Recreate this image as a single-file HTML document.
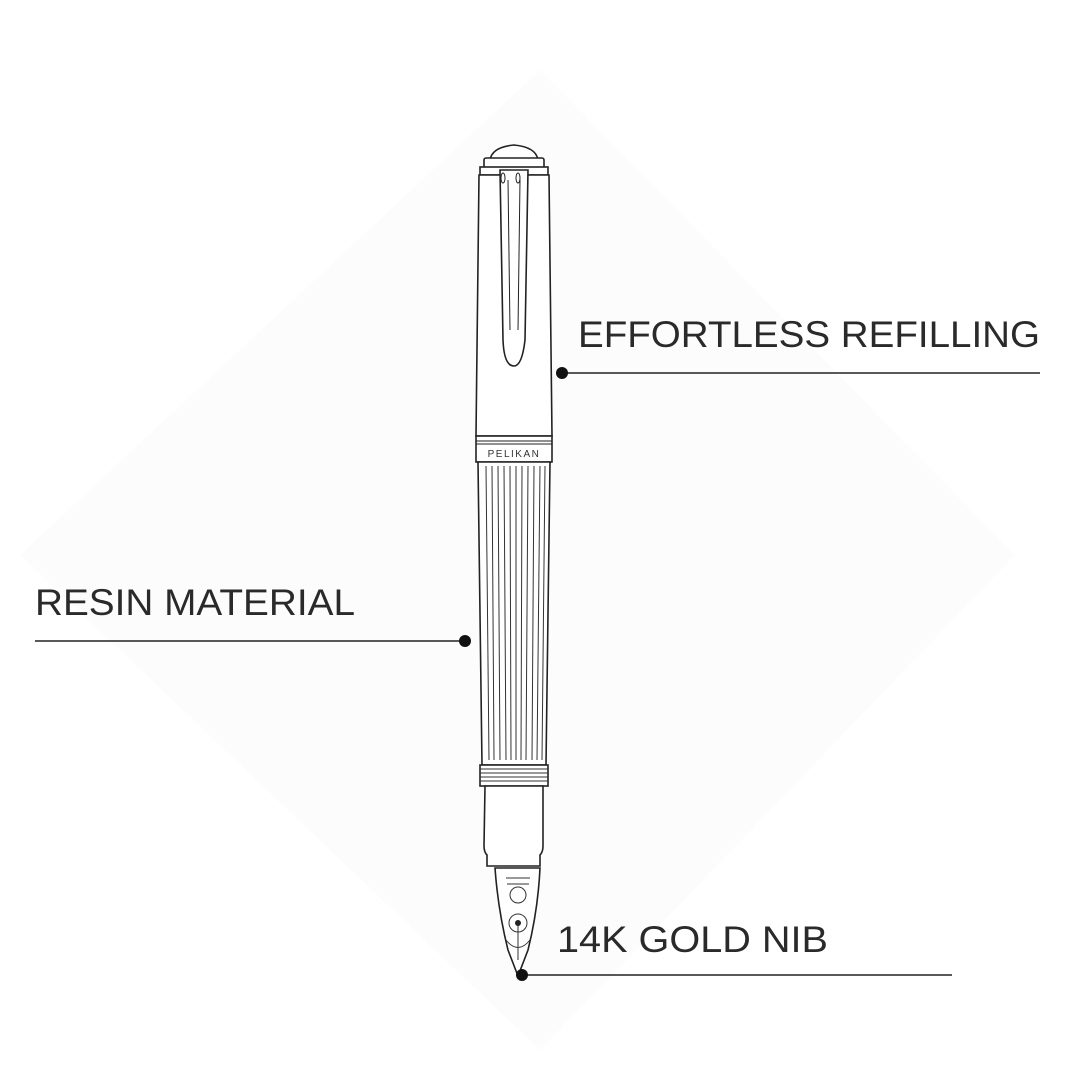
<!DOCTYPE html>
<html><head><style>body{margin:0;background:#fff}svg{display:block}</style></head><body>
<svg width="1080" height="1080" viewBox="0 0 1080 1080" xmlns="http://www.w3.org/2000/svg">
<rect width="1080" height="1080" fill="#fff"/>
<polygon points="540,70 1015,555 540,1050 20,555" fill="#fcfcfc"/>
<g fill="#fff" stroke="#222" stroke-width="1.6">
<path d="M490,160 Q492,147 514,145 Q536,147 538,160 Z"/>
<rect x="484" y="158" width="60" height="10" rx="2"/>
<rect x="480" y="167" width="68" height="8"/>
<path d="M479,175 L549,175 L552,436 L476,436 Z"/>
<path d="M500,170 L528,170 L525,340 Q522,366 514,366 Q504,366 503,340 Z"/>
<path d="M508,180 L510,330 M520,180 L518,330" fill="none" stroke-width="1"/>
<ellipse cx="503" cy="178" rx="2" ry="5" fill="none" stroke-width="1"/>
<ellipse cx="518" cy="178" rx="2" ry="5" fill="none" stroke-width="1"/>
<rect x="476" y="436" width="76" height="26"/>
<line x1="476" y1="441" x2="552" y2="441" stroke-width="1"/>
<line x1="476" y1="444" x2="552" y2="444" stroke-width="1"/>
<path d="M478,462 L550,462 L546,765 L482,765 Z"/>
<rect x="480" y="765" width="68" height="21"/>
<path d="M485,786 L543,786 L543,846 Q543,852 540,855 L540,866 L487,866 L487,855 Q484,852 484,846 Z"/>
<path d="M495,868 L540,868 Q538,910 528,950 L518,976 L508,950 Q498,910 495,868 Z"/>
</g>
<g stroke="#333" stroke-width="1" fill="none">
<path d="M486,466 L489,760 M492,466 L494,760 M498,466 L500,760 M504,466 L506,760 M510,466 L511,760 M516,466 L516,760 M522,466 L521,760 M528,466 L526,760 M534,466 L532,760 M540,466 L537,760 M545,466 L542,760"/>
<path d="M480,769 L548,769 M480,773 L548,773 M480,777 L548,777 M480,781 L548,781"/>
<circle cx="518" cy="895" r="8"/>
<circle cx="518" cy="923" r="9"/>
<path d="M518,923 L518,960 M506,940 Q518,955 530,940"/>
<path d="M506,878 L530,878 M507,884 L529,884"/>
</g>
<circle cx="518" cy="923" r="3" fill="#222"/>
<text x="514" y="457" font-family="Liberation Sans, sans-serif" font-size="10" letter-spacing="1.5" text-anchor="middle" fill="#333">PELIKAN</text>
<g font-family="Liberation Sans, sans-serif" font-size="37" fill="#2a2a2a">
<text x="578" y="347" textLength="462" lengthAdjust="spacingAndGlyphs">EFFORTLESS REFILLING</text>
<text x="35" y="615" textLength="320" lengthAdjust="spacingAndGlyphs">RESIN MATERIAL</text>
<text x="557" y="952" textLength="271" lengthAdjust="spacingAndGlyphs">14K GOLD NIB</text>
</g>
<g stroke="#222" stroke-width="1.5">
<line x1="562" y1="373" x2="1040" y2="373"/>
<line x1="35" y1="641" x2="465" y2="641"/>
<line x1="522" y1="975" x2="952" y2="975"/>
</g>
<g fill="#111">
<circle cx="562" cy="373" r="6"/>
<circle cx="465" cy="641" r="6"/>
<circle cx="522" cy="975" r="6"/>
</g>
</svg>
</body></html>
